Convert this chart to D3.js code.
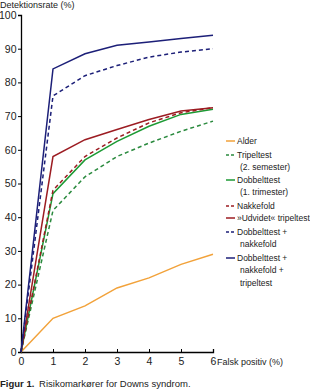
<!DOCTYPE html>
<html>
<head>
<meta charset="utf-8">
<script src="https://cdn.jsdelivr.net/npm/d3@7"></script>
<style>
body { margin: 0; background: #fff; }
text { font-family: "Liberation Sans", Arial, sans-serif; }
</style>
</head>
<body>
<svg width="310" height="389"></svg>
<script>
// false positive (%)
var xs = [0, 1, 2, 3, 4, 5, 6];

var alder        = [0, 10, 13.7, 19, 22, 26, 29];
var tripeltest   = [0, 42, 52, 58, 62, 65.5, 68.5];
var dobbelttest  = [0, 47, 57, 62.5, 67, 70.5, 72];
var nakkefold    = [0, 48, 58, 63.5, 68, 71, 72.5];
var udvidet      = [0, 58, 63, 66, 69, 71.5, 72.5];
var dobNakke     = [0, 76, 82, 85, 87.5, 89, 90];
var dobNakkeTrip = [0, 84, 88.5, 91, 92, 93, 94];

var yTicks = [0, 10, 20, 30, 40, 50, 60, 70, 80, 90, 100];

var series = [
  { name: ["Alder"], values: alder, color: "#f2a23a", dash: null },
  { name: ["Tripeltest", "(2. semester)"], values: tripeltest, color: "#2a8a3e", dash: "4,3" },
  { name: ["Dobbelttest", "(1. trimester)"], values: dobbelttest, color: "#1c9a34", dash: null },
  { name: ["Nakkefold"], values: nakkefold, color: "#9c1c22", dash: "4,3" },
  { name: ["\u00bbUdvidet\u00ab tripeltest"], values: udvidet, color: "#9c1c22", dash: null },
  { name: ["Dobbelttest +", "nakkefold"], values: dobNakke, color: "#1c1f78", dash: "4,3" },
  { name: ["Dobbelttest +", "nakkefold +", "tripeltest"], values: dobNakkeTrip, color: "#1c1f78", dash: null }
];

var svg = d3.select("svg");

var x = d3.scaleLinear().domain([0, 6]).range([21, 213]);
var y = d3.scaleLinear().domain([0, 100]).range([352, 15]);

var xAxis = svg.append("g")
    .attr("transform", "translate(0,352)")
    .call(d3.axisBottom(x).tickValues(xs).tickSize(-3).tickPadding(6).tickFormat(d3.format("d")));
xAxis.select(".domain").attr("stroke-width", 1.3);
xAxis.selectAll("text").attr("font-size", 10.5).attr("fill", "#222");

var yAxis = svg.append("g")
    .attr("transform", "translate(21,0)")
    .call(d3.axisLeft(y).tickValues(yTicks).tickSize(3).tickPadding(1.5));
yAxis.select(".domain").attr("stroke-width", 1.3);
yAxis.selectAll("text").attr("font-size", 10.5).attr("fill", "#222");

svg.append("text")
    .attr("x", 0).attr("y", 8)
    .attr("font-size", 9)
    .attr("fill", "#222")
    .text("Detektionsrate (%)");

svg.append("text")
    .attr("x", 217).attr("y", 365)
    .attr("font-size", 9)
    .attr("fill", "#222")
    .text("Falsk positiv (%)");

var line = d3.line()
    .x(function(d, i) { return x(xs[i]); })
    .y(function(d) { return y(d); });

svg.append("g").selectAll("path")
    .data(series)
    .enter().append("path")
      .attr("d", function(d) { return line(d.values); })
      .attr("fill", "none")
      .attr("stroke", function(d) { return d.color; })
      .attr("stroke-width", 1.5)
      .attr("stroke-dasharray", function(d) { return d.dash; });

// legend
var legendY = [144, 158, 183, 209, 221, 235, 261];
var lg = svg.append("g").selectAll("g")
    .data(series)
    .enter().append("g")
      .attr("transform", function(d, i) { return "translate(0," + legendY[i] + ")"; });

lg.append("line")
    .attr("x1", 226).attr("x2", 235)
    .attr("y1", -3).attr("y2", -3)
    .attr("stroke", function(d) { return d.color; })
    .attr("stroke-width", 1.5)
    .attr("stroke-dasharray", function(d) { return d.dash ? "3,2" : null; });

lg.append("text")
    .attr("x", 237)
    .attr("font-size", 8.5)
    .attr("fill", "#222")
    .selectAll("tspan")
    .data(function(d) { return d.name; })
    .enter().append("tspan")
      .attr("x", function(d, i) { return i ? 240 : 237; })
      .attr("dy", function(d, i) { return i ? 12.3 : 0; })
      .text(function(d) { return d; });

var cap = svg.append("text")
    .attr("x", 0).attr("y", 387)
    .attr("font-size", 9.5)
    .attr("fill", "#222");
cap.append("tspan").attr("font-weight", "bold").text("Figur 1.");
cap.append("tspan").text("\u2002Risikomark\u00f8rer for Downs syndrom.");
</script>
</body>
</html>
